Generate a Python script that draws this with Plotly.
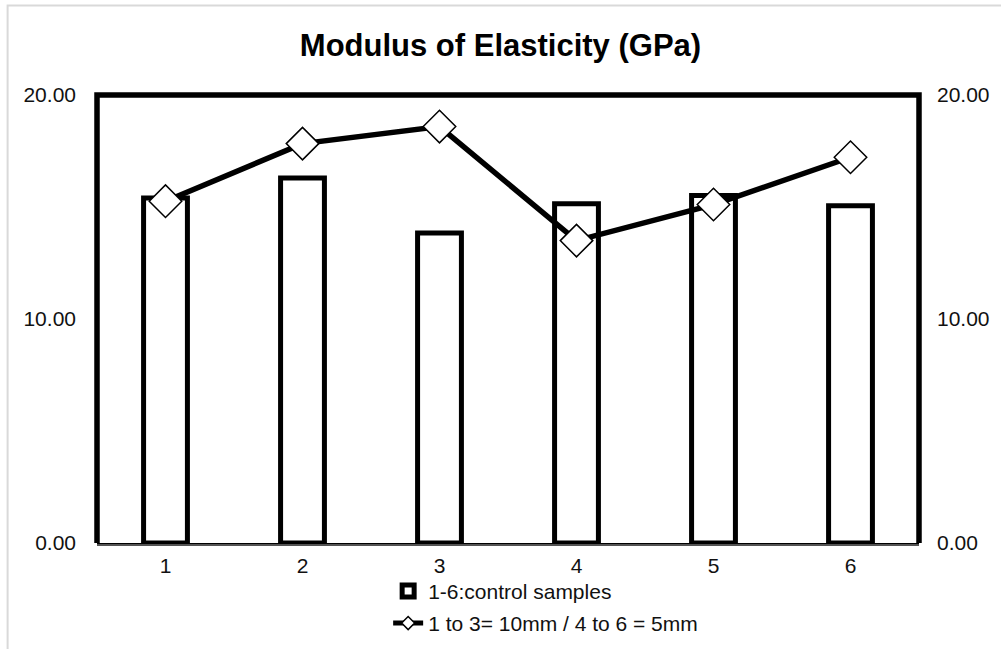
import plotly.graph_objects as go

categories = ["1", "2", "3", "4", "5", "6"]
control_values = [15.40, 16.30, 13.84, 15.15, 15.51, 15.06]
test_values = [15.26, 17.83, 18.59, 13.50, 15.11, 17.22]
y_ticks = [0, 10, 20]

W, H = 1001, 649
L, R, T, B = 96.5, 919.5, 94.5, 543.0
PW, PH = R - L, B - T

def px_x(p):
    return (p - L) / PW

def px_y(p):
    return (B - p) / PH

TXT = "#111"
FS = 21

fig = go.Figure()
fig.add_trace(go.Bar(
    x=categories, y=control_values, name="1-6:control samples",
    marker=dict(color="white", line=dict(color="black", width=5)),
    legend="legend",
))
fig.add_trace(go.Scatter(
    x=categories, y=test_values, name="1 to 3= 10mm / 4 to 6 = 5mm",
    mode="lines+markers",
    line=dict(color="black", width=5.5),
    marker=dict(symbol="diamond", size=25, color="white", line=dict(color="black", width=1.5)),
    showlegend=False,
))
# legend entry for the line series (smaller marker, as in the reference legend)
fig.add_trace(go.Scatter(
    x=[None], y=[None], name="1 to 3= 10mm / 4 to 6 = 5mm",
    mode="lines+markers",
    line=dict(color="black", width=5),
    marker=dict(symbol="diamond", size=10, color="white", line=dict(color="black", width=1.5)),
    legend="legend2",
))
# invisible trace for right axis labels
fig.add_trace(go.Scatter(x=categories, y=test_values, yaxis="y2", mode="markers",
                         marker=dict(opacity=0), showlegend=False, hoverinfo="skip"))

fig.update_layout(
    width=W, height=H,
    margin=dict(l=L, r=W - R, t=T, b=H - B, pad=0, autoexpand=False),
    paper_bgcolor="white", plot_bgcolor="white",
    font=dict(family="Liberation Sans, Arial, sans-serif", color=TXT, size=FS),
    title=dict(text="<b>Modulus of Elasticity (GPa)</b>", x=0.5, xanchor="center",
               y=1 - 45 / H, yanchor="middle", font=dict(size=31, color="black")),
    bargap=0.68,
    showlegend=True,
    legend=dict(x=px_x(388), xanchor="left", y=px_y(571), yanchor="top",
                bgcolor="rgba(0,0,0,0)", font=dict(size=FS, color=TXT)),
    legend2=dict(x=px_x(388), xanchor="left", y=px_y(603), yanchor="top",
                 bgcolor="rgba(0,0,0,0)", font=dict(size=FS, color=TXT)),
    xaxis=dict(type="category", showgrid=False, zeroline=False,
               showline=True, linecolor="black", linewidth=3,
               ticks="", ticklabelstandoff=2, tickfont=dict(size=FS, color=TXT)),
    yaxis=dict(range=[0, 20], tickvals=y_ticks, tickformat=".2f", showgrid=False,
               zeroline=False, showline=False, ticks="", ticklabelstandoff=20,
               tickfont=dict(size=FS, color=TXT)),
    yaxis2=dict(range=[0, 20], tickvals=y_ticks, tickformat=".2f", overlaying="y",
                side="right", showgrid=False, zeroline=False, showline=False,
                ticks="", ticklabelstandoff=17, tickfont=dict(size=FS, color=TXT)),
    shapes=[
        # plot frame (left, top, right)
        dict(type="path", xref="paper", yref="paper",
             path="M 0 0 L 0 1 L 1 1 L 1 0",
             line=dict(color="black", width=5.5), layer="above"),
        # grey line under axis
        dict(type="line", xref="paper", yref="paper", x0=0, x1=1,
             y0=-2.0 / PH, y1=-2.0 / PH, line=dict(color="#a6a6a6", width=1.2)),
        # outer chart frame
        dict(type="rect", xref="paper", yref="paper",
             x0=px_x(7), y0=px_y(700), x1=px_x(1100), y1=px_y(4.8),
             line=dict(color="#d9d9d9", width=2)),
    ],
)

fig.write_html("out.html")
